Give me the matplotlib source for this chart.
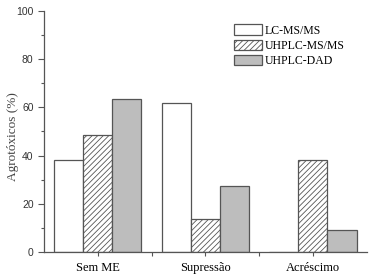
import numpy as np
import matplotlib.pyplot as plt
from matplotlib.ticker import MultipleLocator, FixedLocator

categories = ["Sem ME", "Supressão", "Acréscimo"]
lc_msms = [38, 62, 0]
uhplc_msms = [48.5, 13.7, 38]
uhplc_dad = [63.5, 27.2, 9.1]

plt.rcParams['hatch.linewidth'] = 0.6
plt.rcParams['hatch.color'] = '#666666'

fig = plt.figure(figsize=(3.74, 2.77), dpi=100)
ax = fig.add_axes([0.1176, 0.0903, 0.863, 0.870])

x = np.arange(1, len(categories) + 1)
w = 0.27
edge = '#555555'
ax.bar(x - w, lc_msms, w, color='white', edgecolor=edge, linewidth=0.9, label='LC-MS/MS')
ax.bar(x, uhplc_msms, w, color='white', edgecolor=edge, linewidth=0.9, hatch='//////', label='UHPLC-MS/MS')
ax.bar(x + w, uhplc_dad, w, color='#bdbdbd', edgecolor=edge, linewidth=0.9, label='UHPLC-DAD')

ax.set_xlim(0.5, 3.5)
ax.set_ylim(0, 100)
ax.spines['top'].set_visible(False)
ax.spines['right'].set_visible(False)
for s in ['left', 'bottom']:
    ax.spines[s].set_color('#555555')
    ax.spines[s].set_linewidth(0.9)

ax.yaxis.set_major_locator(MultipleLocator(20))
ax.yaxis.set_minor_locator(MultipleLocator(10))
ax.xaxis.set_major_locator(FixedLocator(x))
ax.xaxis.set_minor_locator(FixedLocator([1.5, 2.5]))
ax.set_xticklabels(categories, family='Liberation Serif', fontsize=9)
ax.tick_params(axis='both', which='both', direction='out', color='#555555', width=0.8)
ax.tick_params(axis='y', which='major', length=4, labelsize=7.5, labelcolor='#333333')
ax.tick_params(axis='y', which='minor', length=2.5)
ax.tick_params(axis='x', which='major', length=3, pad=4)
ax.tick_params(axis='x', which='minor', length=3)
for t in ax.get_yticklabels():
    t.set_family('Liberation Sans')

ax.set_ylabel('Agrotóxicos (%)', family='Liberation Serif', fontsize=9.5, color='#444444')
ax.yaxis.set_label_coords(-0.078, 0.48)

ax.legend(loc='upper left', bbox_to_anchor=(0.59, 0.945), frameon=False,
          prop={'family': 'Liberation Serif', 'size': 8.5}, borderpad=0, borderaxespad=0,
          handlelength=2.3, handleheight=1.0, handletextpad=0.3, labelspacing=0.25)

fig.savefig('out.png', dpi=100)
